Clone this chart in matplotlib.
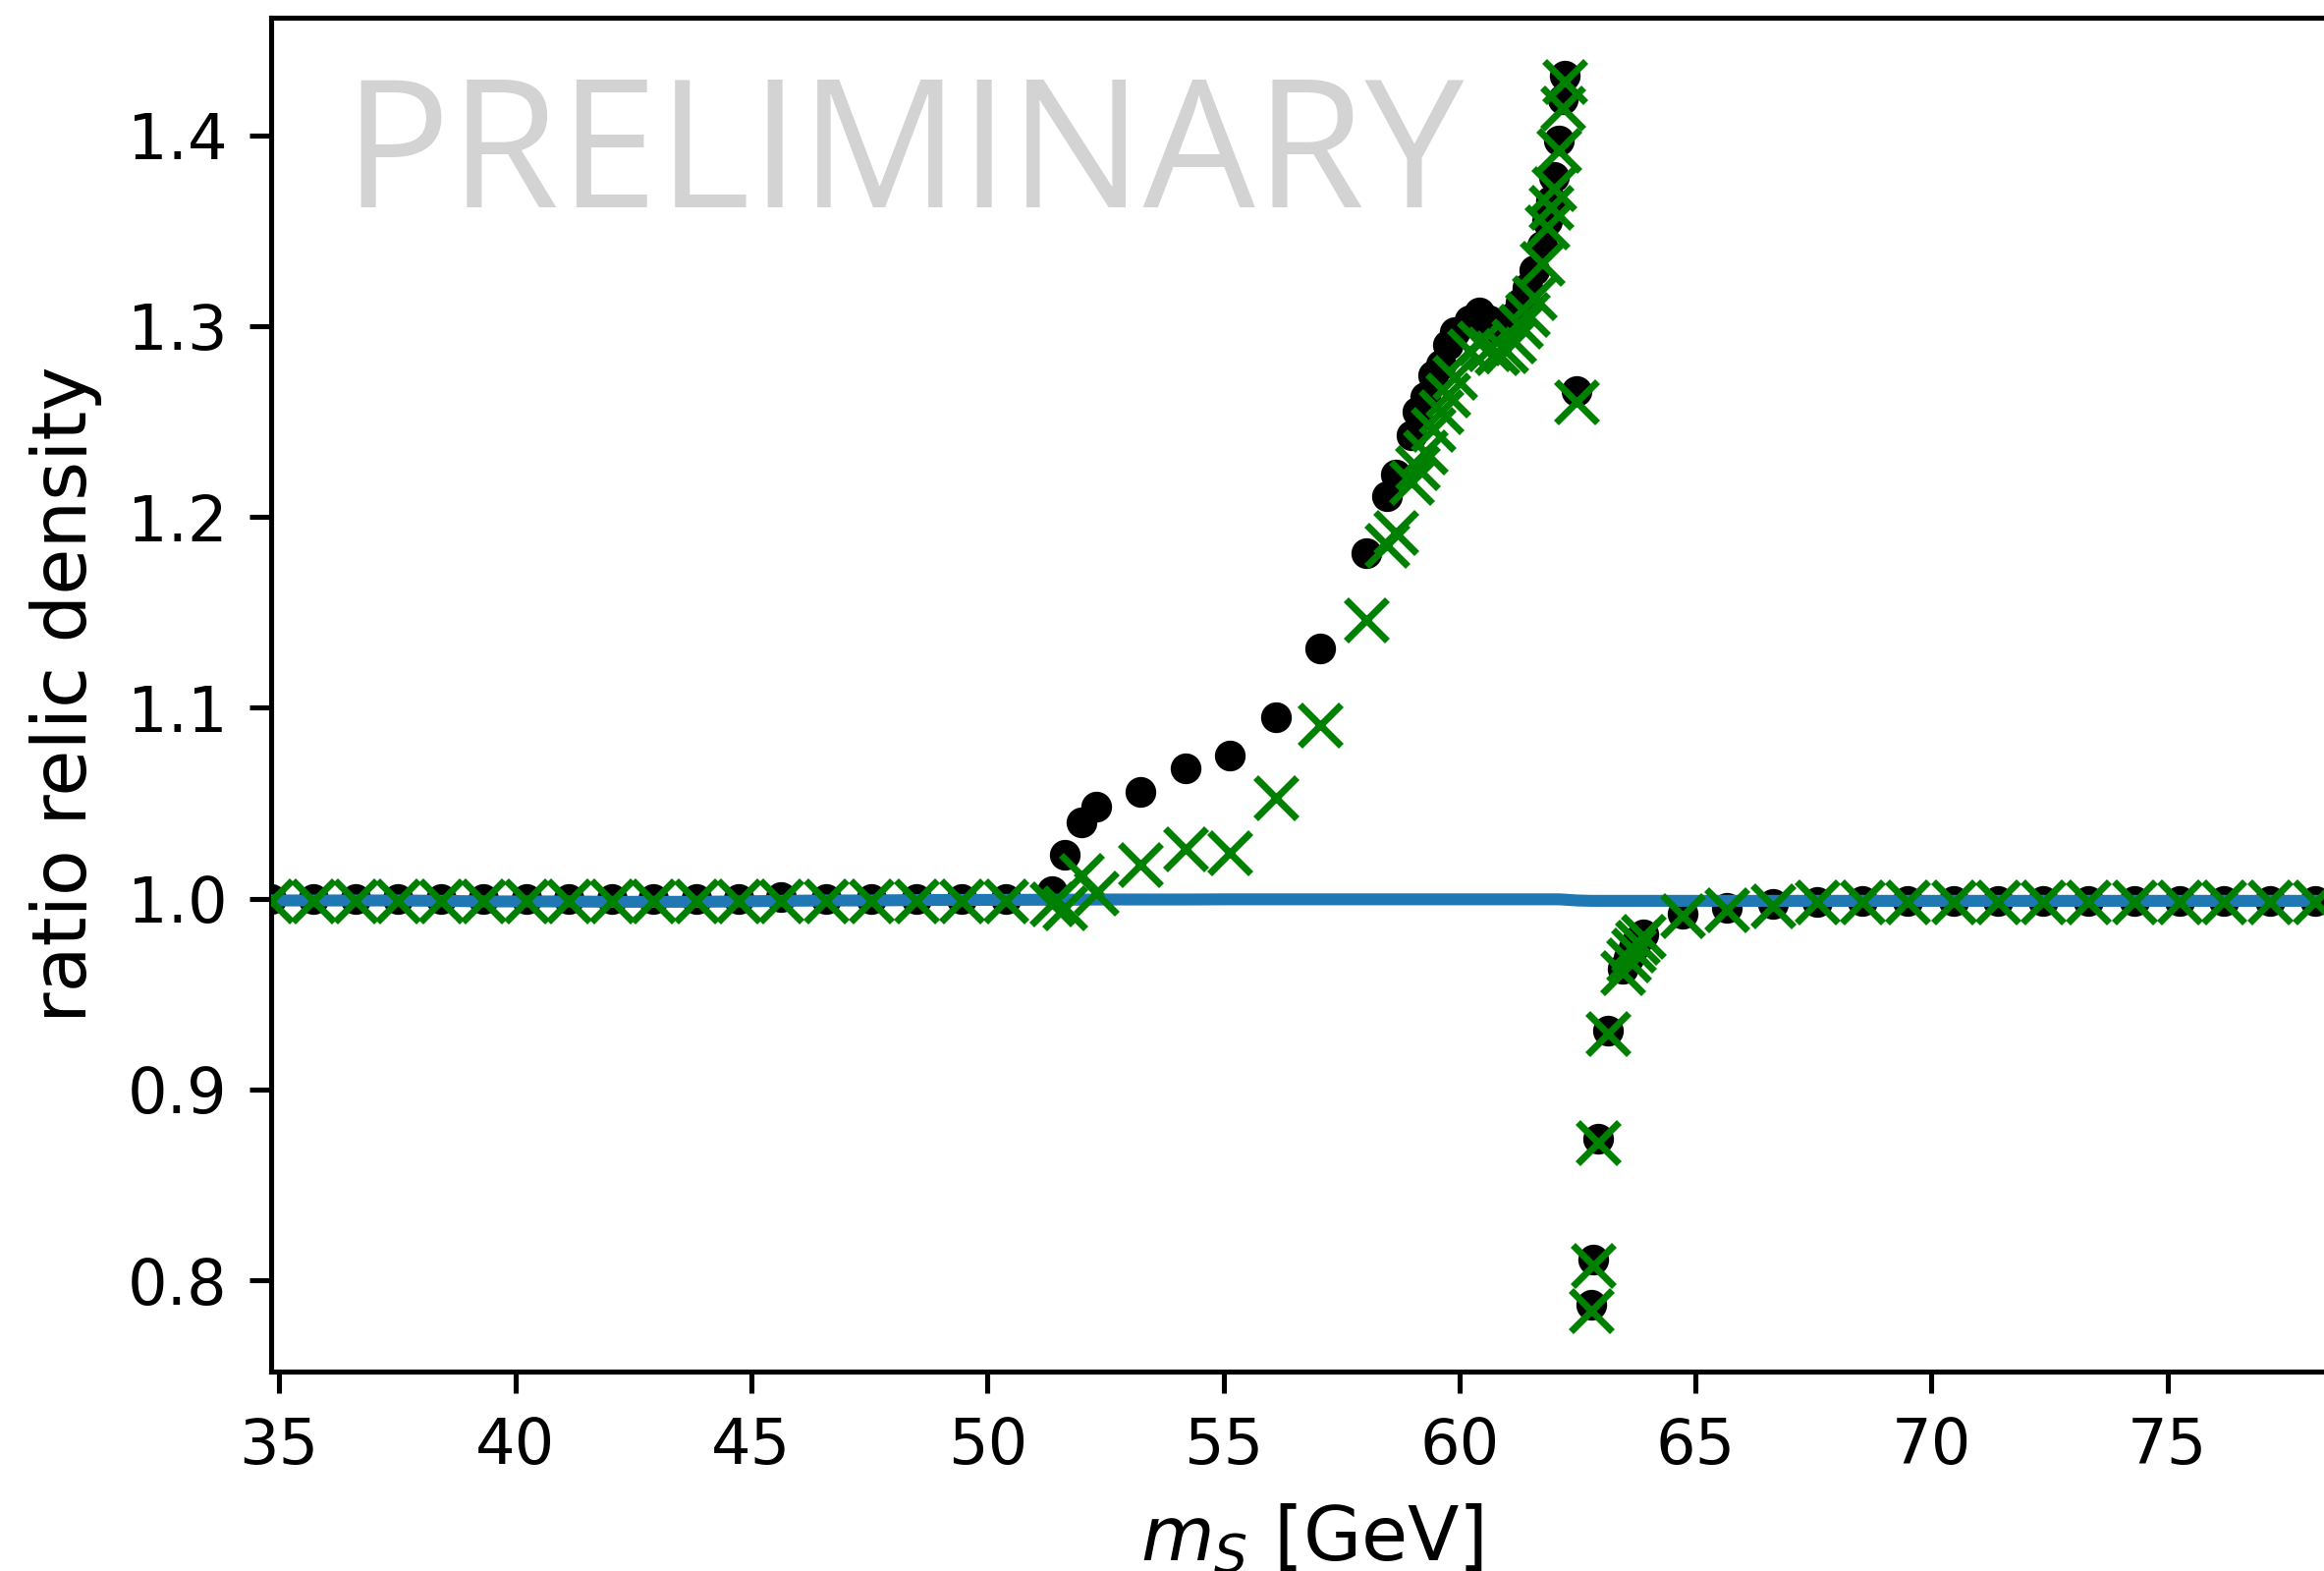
import numpy as np
import matplotlib.pyplot as plt

# scan points in the singlet mass
m_s = np.array([
    34.83, 35.72, 36.62, 37.52, 38.43, 39.32, 40.23, 41.13, 42.04, 42.92,
    43.83, 44.73, 45.63, 46.58, 47.54, 48.50, 49.45, 50.39,
    51.36, 51.64, 51.99, 52.30, 53.25, 54.19, 55.13, 56.11, 57.05, 58.03,
    58.47, 58.66, 58.99, 59.11, 59.27, 59.44, 59.60, 59.76, 59.91, 60.22,
    60.43, 60.62, 60.80, 60.98, 61.15, 61.30, 61.45, 61.59, 61.75, 61.85,
    61.93, 62.00, 62.10, 62.18, 62.24,
    62.49, 62.79, 62.83, 62.93, 63.14, 63.45, 63.58, 63.68, 63.78, 63.90,
    64.73, 65.67, 66.64, 67.58, 68.54, 69.50, 70.46, 71.41, 72.37, 73.33,
    74.29, 75.25, 76.20, 77.16, 78.12,
])

# ratio with full treatment
ratio_full = np.array([
    1.000, 1.000, 1.000, 1.000, 1.000, 1.000, 1.000, 1.000, 1.000, 1.000,
    1.000, 1.000, 1.001, 1.000, 1.000, 1.000, 1.000, 1.000,
    1.004, 1.023, 1.040, 1.048, 1.056, 1.068, 1.075, 1.095, 1.131, 1.181,
    1.211, 1.222, 1.243, 1.255, 1.263, 1.274, 1.280, 1.290, 1.297, 1.303,
    1.307, 1.303, 1.298, 1.300, 1.305, 1.312, 1.320, 1.329, 1.342, 1.355,
    1.366, 1.378, 1.397, 1.419, 1.431,
    1.266, 0.787, 0.811, 0.874, 0.931, 0.963, 0.969, 0.974, 0.978, 0.981,
    0.992, 0.995, 0.997, 0.998, 0.999, 0.999, 0.999, 0.999, 0.999, 0.999,
    0.999, 0.999, 0.999, 0.999, 0.999,
])

# ratio with approximate treatment
ratio_approx = np.array([
    0.999, 0.999, 0.999, 0.999, 0.999, 0.999, 0.999, 0.999, 0.999, 0.999,
    0.999, 0.999, 0.999, 0.999, 0.999, 0.999, 0.999, 0.999,
    0.997, 0.995, 1.012, 1.003, 1.018, 1.026, 1.024, 1.053, 1.091, 1.146,
    1.185, 1.192, 1.218, 1.226, 1.234, 1.246, 1.255, 1.264, 1.273, 1.287,
    1.291, 1.288, 1.286, 1.287, 1.292, 1.300, 1.306, 1.315, 1.333, 1.352,
    1.362, 1.372, 1.392, 1.414, 1.428,
    1.260, 0.784, 0.808, 0.872, 0.929, 0.961, 0.968, 0.973, 0.977, 0.980,
    0.991, 0.994, 0.996, 0.998, 0.998, 0.998, 0.998, 0.998, 0.998, 0.998,
    0.998, 0.998, 0.998, 0.998, 0.998,
])

# reference ratio
ratio_ref = np.array([
    0.9990, 0.9990, 0.9990, 0.9990, 0.9988, 0.9985, 0.9985, 0.9985, 0.9983, 0.9983,
    0.9983, 0.9985, 0.9988, 0.9990, 0.9990, 0.9992, 0.9993, 0.9993,
    0.9994, 0.9994, 0.9994, 0.9995, 0.9995, 0.9995, 0.9996, 0.9996, 0.9996, 0.9996,
    0.9996, 0.9996, 0.9996, 0.9996, 0.9996, 0.9996, 0.9996, 0.9996, 0.9996, 0.9996,
    0.9996, 0.9996, 0.9996, 0.9996, 0.9996, 0.9996, 0.9996, 0.9996, 0.9996, 0.9996,
    0.9996, 0.9996, 0.9996, 0.9995, 0.9994,
    0.9990, 0.9988, 0.9988, 0.9988, 0.9988, 0.9988, 0.9988, 0.9988, 0.9988, 0.9988,
    0.9988, 0.9988, 0.9988, 0.9988, 0.9988, 0.9988, 0.9988, 0.9988, 0.9988, 0.9988,
    0.9988, 0.9988, 0.9988, 0.9988, 0.9988,
])

dpi = 460
fig = plt.figure(figsize=(2366 / dpi, 1599 / dpi), dpi=dpi)
ax = fig.add_axes([0.1167, 0.1270, 0.8952, 0.8617])

ax.plot(m_s, ratio_full, 'ko', ms=3.9, zorder=2)
ax.plot(m_s, ratio_ref, '-', color='tab:blue', lw=1.9, zorder=3)
ax.plot(m_s, ratio_approx, 'x', color='green', ms=6.5, mew=1.1, zorder=4)

ax.set_xlim(34.83, 78.9)
ax.set_ylim(0.7522, 1.4615)
ax.set_xticks([35, 40, 45, 50, 55, 60, 65, 70, 75])
ax.set_yticks([0.8, 0.9, 1.0, 1.1, 1.2, 1.3, 1.4])

ax.set_xlabel(r'$m_S$ [GeV]', fontsize=12)
ax.set_ylabel('ratio relic density', fontsize=12)

fig.text(0.1478, 0.868, 'PRELIMINARY', fontsize=28.3, color='lightgray',
         family=['Open Sans', 'DejaVu Sans'], ha='left', va='baseline', zorder=0)

fig.savefig('out.png', dpi=dpi)
